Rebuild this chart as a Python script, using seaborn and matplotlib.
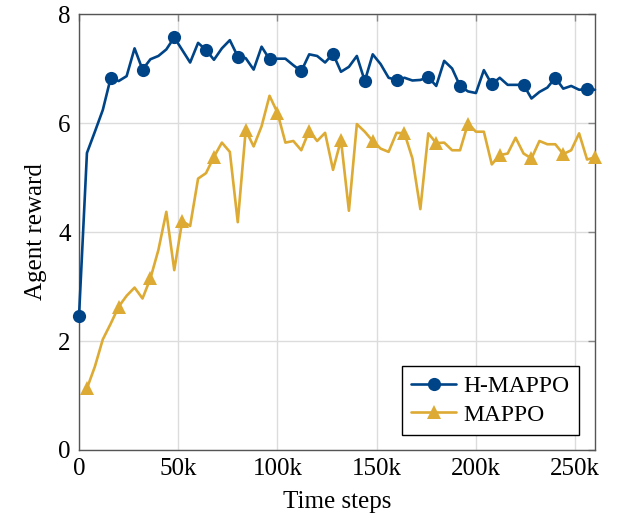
import numpy as np
import pandas as pd
import matplotlib
matplotlib.use("Agg")
import matplotlib.pyplot as plt
import seaborn as sns
from matplotlib.ticker import FuncFormatter

# ---- data ----
h_steps = list(range(0, 260001, 4000))
h_mappo = [2.45, 5.45, 5.84, 6.24, 6.83, 6.77, 6.86, 7.37, 6.98, 7.17,
           7.23, 7.35, 7.57, 7.34, 7.11, 7.47, 7.34, 7.16, 7.37, 7.52,
           7.22, 7.19, 6.98, 7.40, 7.17, 7.18, 7.18, 7.06, 6.95, 7.26,
           7.23, 7.11, 7.27, 6.94, 7.03, 7.23, 6.77, 7.26, 7.08, 6.83,
           6.79, 6.83, 6.78, 6.79, 6.84, 6.68, 7.14, 7.00, 6.68, 6.58,
           6.55, 6.97, 6.71, 6.83, 6.70, 6.70, 6.70, 6.45, 6.57, 6.65,
           6.83, 6.63, 6.68, 6.61, 6.62, 6.61]
m_steps = list(range(4000, 260001, 4000))
mappo = [1.13, 1.53, 2.03, 2.32, 2.63, 2.83, 2.98, 2.78, 3.15, 3.67,
         4.37, 3.30, 4.20, 4.11, 4.98, 5.08, 5.38, 5.64, 5.47, 4.18,
         5.87, 5.57, 5.94, 6.50, 6.19, 5.64, 5.67, 5.50, 5.86, 5.67,
         5.82, 5.14, 5.69, 4.39, 5.98, 5.84, 5.67, 5.53, 5.47, 5.82,
         5.81, 5.35, 4.42, 5.81, 5.63, 5.64, 5.50, 5.50, 5.99, 5.84,
         5.84, 5.24, 5.41, 5.44, 5.73, 5.44, 5.35, 5.67, 5.61, 5.61,
         5.43, 5.50, 5.81, 5.33, 5.37]
x_ticks = [0, 50000, 100000, 150000, 200000, 250000]
y_ticks = [0, 2, 4, 6, 8]

df_h = pd.DataFrame({"step": h_steps, "reward": h_mappo})
df_m = pd.DataFrame({"step": m_steps, "reward": mappo})

sns.set_theme(style="white")
plt.rcParams["font.family"] = ["Liberation Serif", "DejaVu Serif"]
plt.rcParams["text.color"] = "black"
plt.rcParams["axes.labelcolor"] = "black"
plt.rcParams["xtick.color"] = "black"
plt.rcParams["ytick.color"] = "black"

fig = plt.figure(figsize=(6.23, 5.18), dpi=100)
ax = fig.add_axes([79/623, 1-450/518, (595-79)/623, (450-14)/518])

blue = "#004488"
gold = "#DDAA33"

sns.lineplot(data=df_h, x="step", y="reward", ax=ax, color=blue, lw=1.9,
             marker="o", markersize=9.5, markevery=4, markeredgewidth=0,
             label="H-MAPPO", clip_on=False, zorder=3)
sns.lineplot(data=df_m, x="step", y="reward", ax=ax, color=gold, lw=1.9,
             marker="^", markersize=10, markevery=4, markeredgewidth=0,
             label="MAPPO", clip_on=False, zorder=3)

ax.set_xlim(0, 260000)
ax.set_ylim(0, 8)
ax.set_xticks(x_ticks)
ax.set_yticks(y_ticks)
ax.xaxis.set_major_formatter(FuncFormatter(lambda v, p: "0" if v == 0 else f"{int(v/1000)}k"))
ax.grid(True, color="#dcdcdc", lw=1.0)
ax.set_axisbelow(True)
for s in ax.spines.values():
    s.set_color("#555555")
    s.set_linewidth(1.0)
ax.tick_params(direction="in", top=True, right=True, length=5, width=1.0,
               color="#888888", labelcolor="black", labelsize=18, pad=6)
ax.set_xlabel("Time steps", fontsize=18, labelpad=8)
ax.set_ylabel("Agent reward", fontsize=18, labelpad=8)

leg = ax.legend(loc="lower right", fontsize=17, frameon=True, fancybox=False,
                edgecolor="black", framealpha=1, borderpad=0.4, handlelength=1.9,
                labelspacing=0.28, handletextpad=0.3, borderaxespad=0,
                bbox_to_anchor=(1 - 16/516, 15/436))
leg.get_frame().set_linewidth(1.0)

fig.savefig("out.png", dpi=100)
